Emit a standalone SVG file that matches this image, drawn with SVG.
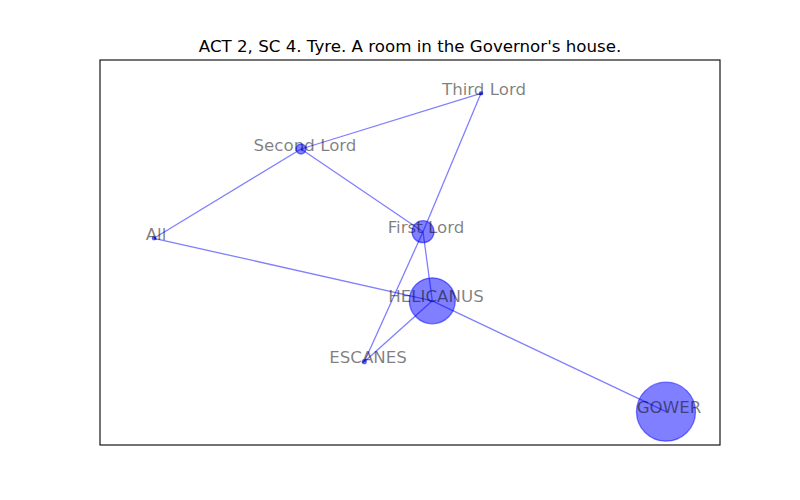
<svg xmlns="http://www.w3.org/2000/svg" width="800" height="500" viewBox="0 0 800 500">
<style>
.edge{stroke:#0000ff;stroke-opacity:0.5;stroke-width:1.3;fill:none}
.node{fill:#0000ff;fill-opacity:0.5;stroke:#0000ff;stroke-opacity:0.5;stroke-width:1.3}
.lbl{font-family:"DejaVu Sans",sans-serif;font-size:16.67px;fill:#000;fill-opacity:0.5;text-anchor:middle}
.title{font-family:"DejaVu Sans",sans-serif;font-size:16.67px;fill:#000;text-anchor:middle}
</style>
<rect width="800" height="500" fill="#fff"/>
<rect x="100" y="60" width="620" height="385" fill="none" stroke="#000" stroke-width="1.1"/>
<text class="title" x="410" y="52">ACT 2, SC 4. Tyre. A room in the Governor's house.</text>
<g id="edges">
<line class="edge" x1="481" y1="93.3" x2="301" y2="149"/>
<line class="edge" x1="481" y1="93.3" x2="423" y2="231.7"/>
<line class="edge" x1="423" y1="231.7" x2="364.3" y2="361.7"/>
<line class="edge" x1="301" y1="149" x2="154" y2="238.3"/>
<line class="edge" x1="301" y1="149" x2="423" y2="231.7"/>
<line class="edge" x1="154" y1="238.3" x2="432.3" y2="300.8"/>
<line class="edge" x1="423" y1="231.7" x2="432.3" y2="300.8"/>
<line class="edge" x1="432.3" y1="300.8" x2="364.3" y2="361.7"/>
<line class="edge" x1="432.3" y1="300.8" x2="666" y2="411.7"/>
</g>
<g id="third-lord"><circle class="node" cx="481" cy="93.3" r="1.6"/><text class="lbl" x="484" y="94.8">Third Lord</text></g>
<g id="second-lord"><circle class="node" cx="301" cy="149" r="5"/><text class="lbl" x="305" y="150.5">Second Lord</text></g>
<g id="all"><circle class="node" cx="154" cy="238.3" r="1.6"/><text class="lbl" x="156" y="239.8">All</text></g>
<g id="first-lord"><circle class="node" cx="423" cy="231.7" r="11"/><text class="lbl" x="426" y="233.2">First Lord</text></g>
<g id="helicanus"><circle class="node" cx="432.3" cy="300.8" r="23"/><text class="lbl" x="436" y="302.3">HELICANUS</text></g>
<g id="escanes"><circle class="node" cx="364.3" cy="361.7" r="2"/><text class="lbl" x="368" y="363.2">ESCANES</text></g>
<g id="gower"><circle class="node" cx="666" cy="411.7" r="29.5"/><text class="lbl" x="669" y="413.2">GOWER</text></g>
</svg>
